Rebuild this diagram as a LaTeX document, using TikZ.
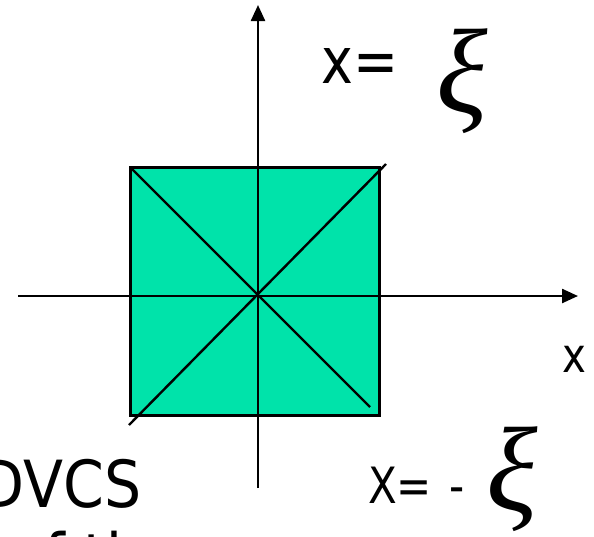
\documentclass[tikz,border=0pt]{standalone}
\usepackage{fontspec}
\setmainfont{DejaVu Sans}
\newfontfamily\nfont[FakeStretch=0.84]{DejaVu Sans}
\newfontfamily\wfont[FakeStretch=0.9]{DejaVu Sans}
\newfontfamily\xifont{Liberation Serif}
\usetikzlibrary{arrows.meta}
\definecolor{sqgreen}{RGB}{0,227,170}
\begin{document}
\begin{tikzpicture}[x=1pt,y=-1pt,
  axis/.style={line width=2.4pt,-{Triangle[length=16pt,width=14pt]}},
  diag/.style={line width=2.4pt},
  lbl/.style={inner sep=0pt,anchor=base west},
  xilbl/.style={inner sep=0pt,anchor=base west,font=\xifont\itshape\fontsize{120}{120}\selectfont}]
\useasboundingbox (0,0) rectangle (594,536);
\clip (0,0) rectangle (594,536);
% square
\draw[fill=sqgreen,line width=3pt] (130,167) rectangle (379,415);
% named points
\coordinate (tl) at (130,167);
\coordinate (dtl) at (370,407);
\coordinate (bl) at (129,425);
\coordinate (tr) at (386,164);
\coordinate (vb) at (258,488);
\coordinate (vt) at (258,5);
\coordinate (hl) at (18,296);
\coordinate (hr) at (578,296);
% diagonals
\draw[diag] (tl) -- (dtl);
\draw[diag] (bl) -- (tr);
% axes
\draw[axis] (vb) -- (vt);
\draw[axis] (hl) -- (hr);
% labels
\node[lbl,font=\nfont\fontsize{64}{64}\selectfont] (xeq) at (321,83) {x=};
\node[xilbl] (xi1) at (436,112) {ξ};
\node[lbl,font=\nfont\fontsize{48}{48}\selectfont] (xax) at (562,372) {x};
\node[lbl,font=\nfont\fontsize{50}{50}\selectfont] (xeq2) at (368,503) {X=};
\node[lbl,font=\nfont\fontsize{50}{50}\selectfont] (dash) at (449,503) {-};
\node[xilbl] (xi2) at (486,510) {ξ};
\node[lbl,font=\wfont\fontsize{65}{65}\selectfont] (dvcs) at (-21,507) {DVCS};
\node[lbl,font=\wfont\fontsize{65}{65}\selectfont] (line2) at (8,580) {of the};
\end{tikzpicture}
\end{document}
